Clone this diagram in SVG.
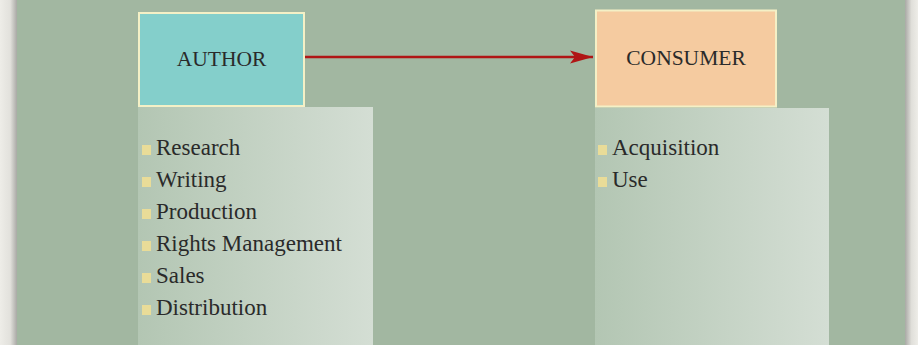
<svg xmlns="http://www.w3.org/2000/svg" width="918" height="345" viewBox="0 0 918 345">
<defs>
<linearGradient id="panel" x1="0" y1="0" x2="1" y2="0">
<stop offset="0" stop-color="#b3c6b3"/>
<stop offset="1" stop-color="#d4ded4"/>
</linearGradient>
<linearGradient id="shL" x1="0" y1="0" x2="1" y2="0">
<stop offset="0" stop-color="#eeede8"/>
<stop offset="0.6" stop-color="#e2e1dc"/>
<stop offset="1" stop-color="#a9a9a5"/>
</linearGradient>
<linearGradient id="shR" x1="1" y1="0" x2="0" y2="0">
<stop offset="0" stop-color="#eeede8"/>
<stop offset="0.5" stop-color="#e0dfda"/>
<stop offset="1" stop-color="#a9a9a5"/>
</linearGradient>
<marker id="ah" markerUnits="userSpaceOnUse" markerWidth="24" markerHeight="14" refX="23" refY="7" orient="auto">
<path d="M0,0.5 L23,7 L0,13.5 L5,7 Z" fill="#b01515"/>
</marker>
</defs>
<style>
.box{stroke:#f4f0c6;stroke-width:2}
.lbl{font-family:"Liberation Serif",serif;font-size:21.5px;fill:#2a2a2a;text-anchor:middle}
.item{font-family:"Liberation Serif",serif;font-size:23px;fill:#2a2a2a}
.bul{fill:#e9dc98}
</style>
<rect x="0" y="0" width="918" height="345" fill="#eeede8"/>
<rect x="0" y="0" width="17" height="345" fill="url(#shL)"/>
<rect x="905" y="0" width="13" height="345" fill="url(#shR)"/>
<rect x="17" y="0" width="888" height="345" fill="#a2b7a1"/>
<g id="author">
<rect x="138" y="107" width="235" height="238" fill="url(#panel)"/>
<rect class="box" x="139" y="13" width="165" height="93" fill="#84cfcb"/>
<text class="lbl" x="221.5" y="66">AUTHOR</text>
<rect class="bul" x="142" y="145" width="9" height="10"/>
<text class="item" x="156" y="155">Research</text>
<rect class="bul" x="142" y="177" width="9" height="10"/>
<text class="item" x="156" y="187">Writing</text>
<rect class="bul" x="142" y="209" width="9" height="10"/>
<text class="item" x="156" y="219">Production</text>
<rect class="bul" x="142" y="241" width="9" height="10"/>
<text class="item" x="156" y="251">Rights Management</text>
<rect class="bul" x="142" y="273" width="9" height="10"/>
<text class="item" x="156" y="283">Sales</text>
<rect class="bul" x="142" y="305" width="9" height="10"/>
<text class="item" x="156" y="315">Distribution</text>
</g>
<g id="consumer">
<rect x="595" y="108" width="234" height="237" fill="url(#panel)"/>
<rect class="box" x="596" y="10.5" width="180" height="96" fill="#f5cba0"/>
<text class="lbl" x="686" y="65">CONSUMER</text>
<rect class="bul" x="598" y="145" width="9" height="10"/>
<text class="item" x="612" y="155">Acquisition</text>
<rect class="bul" x="598" y="177" width="9" height="10"/>
<text class="item" x="612" y="187">Use</text>
</g>
<g id="connectors">
<line x1="305" y1="57" x2="593" y2="57" stroke="#b01515" stroke-width="2.5" marker-end="url(#ah)"/>
</g>
</svg>
